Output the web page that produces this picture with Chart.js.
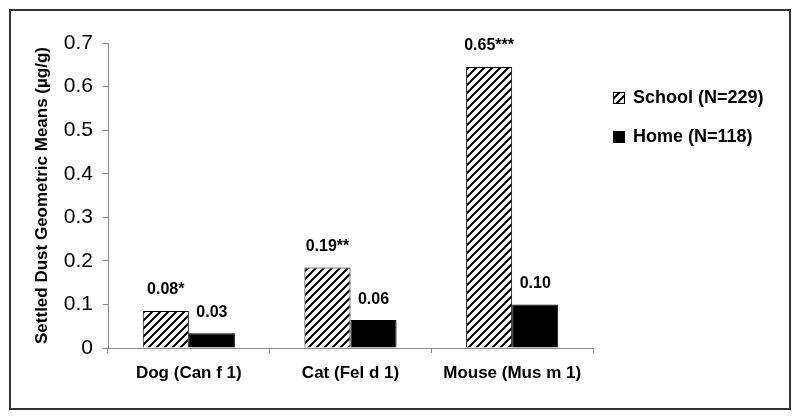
<!DOCTYPE html>
<html>
<head>
<meta charset="utf-8">
<script src="https://cdn.jsdelivr.net/npm/chart.js@4"></script>
<style>
  html, body { margin: 0; padding: 0; background: #fff; }
  #wrap { width: 800px; height: 419px; }
</style>
</head>
<body>
<div id="wrap"><canvas id="chart-poeira" width="800" height="419"></canvas></div>
<script>
/* dados */
const CATEGORIAS = ['Dog (Can f 1)', 'Cat (Fel d 1)', 'Mouse (Mus m 1)'];
const SERIES = ['School (N=229)', 'Home (N=118)'];
const VALORES_ESCOLA = [0.085, 0.185, 0.645];
const VALORES_CASA = [0.034, 0.064, 0.100];
const ROTULOS_ESCOLA = ['0.08*', '0.19**', '0.65***'];
const ROTULOS_CASA = ['0.03', '0.06', '0.10'];
const TICKS_Y = [0, 0.1, 0.2, 0.3, 0.4, 0.5, 0.6, 0.7];

const FONTE = 'Arial, "Liberation Sans", sans-serif';

// hachura diagonal "/" para a série escola
function hachura() {
    const c = document.createElement('canvas');
    c.width = 8; c.height = 8;
    const g = c.getContext('2d');
    g.fillStyle = '#fff';
    g.fillRect(0, 0, 8, 8);
    g.strokeStyle = '#000';
    g.lineWidth = 2;
    g.beginPath();
    g.moveTo(-2, 10); g.lineTo(10, -2);
    g.moveTo(-6, 6); g.lineTo(6, -6);
    g.moveTo(2, 14); g.lineTo(14, 2);
    g.stroke();
    return g.createPattern(c, 'repeat');
}
const PADRAO = hachura();

// moldura, rótulos de valor e legenda
const extras = {
    id: 'extras',
    afterDatasetsDraw(chart) {
        const ctx = chart.ctx;
        ctx.save();
        ctx.font = `bold 16px ${FONTE}`;
        ctx.fillStyle = '#000';
        ctx.textAlign = 'center';
        ctx.textBaseline = 'middle';
        const rot = [ROTULOS_ESCOLA, ROTULOS_CASA];
        chart.data.datasets.forEach((ds, i) => {
            chart.getDatasetMeta(i).data.forEach((bar, j) => {
                ctx.fillText(rot[i][j], bar.x, bar.y - 21);
            });
        });
        ctx.restore();
    },
    afterDraw(chart) {
        const ctx = chart.ctx;
        ctx.save();
        // moldura externa
        ctx.strokeStyle = '#333';
        ctx.lineWidth = 2;
        ctx.strokeRect(10, 10, 780, 399);
        // legenda
        ctx.font = `bold 18px ${FONTE}`;
        ctx.textBaseline = 'middle';
        ctx.textAlign = 'left';
        const ys = [98, 137];
        chart.data.datasets.forEach((ds, i) => {
            ctx.fillStyle = ds.backgroundColor;
            ctx.fillRect(613, ys[i] - 6, 12, 12);
            ctx.strokeStyle = '#000';
            ctx.lineWidth = 1;
            ctx.strokeRect(613.5, ys[i] - 5.5, 11, 11);
            ctx.fillStyle = '#000';
            ctx.fillText(ds.label, 633, ys[i]);
        });
        ctx.restore();
    }
};

new Chart(document.getElementById('chart-poeira'), {
    type: 'bar',
    data: {
        labels: CATEGORIAS,
        datasets: [{
            label: SERIES[0],
            data: VALORES_ESCOLA,
            backgroundColor: PADRAO,
            borderColor: '#000',
            borderWidth: 1,
            barPercentage: 1,
            categoryPercentage: 0.57,
        }, {
            label: SERIES[1],
            data: VALORES_CASA,
            backgroundColor: '#000',
            borderColor: '#000',
            borderWidth: 1,
            barPercentage: 1,
            categoryPercentage: 0.57,
        }]
    },
    options: {
        responsive: false,
        animation: false,
        layout: { padding: { left: 0, right: 207, top: 43, bottom: 0 } },
        plugins: {
            legend: { display: false },
            tooltip: { enabled: false }
        },
        scales: {
            x: {
                grid: { display: true, drawOnChartArea: false, drawTicks: true, tickLength: 5, color: '#888', offset: true },
                border: { color: '#888', width: 1 },
                ticks: {
                    font: { family: FONTE, size: 17, weight: 'bold' },
                    color: '#000',
                    padding: 10,
                    maxRotation: 0
                },
                afterFit: s => { s.height = 71; }
            },
            y: {
                min: 0,
                max: 0.7,
                afterBuildTicks: s => { s.ticks = TICKS_Y.map(v => ({ value: v })); },
                grid: { display: true, drawOnChartArea: false, drawTicks: true, tickLength: 5, color: '#888' },
                border: { color: '#888', width: 1 },
                ticks: {
                    font: { family: FONTE, size: 21 },
                    color: '#000',
                    padding: 10,
                    callback: v => String(+v.toFixed(1))
                },
                title: {
                    display: true,
                    text: 'Settled Dust Geometric Means (µg/g)',
                    font: { family: FONTE, size: 17, weight: 'bold' },
                    color: '#000',
                    padding: { top: 32, bottom: 0 }
                },
                afterFit: s => { s.width = 108; }
            }
        }
    },
    plugins: [extras]
});
</script>
</body>
</html>
